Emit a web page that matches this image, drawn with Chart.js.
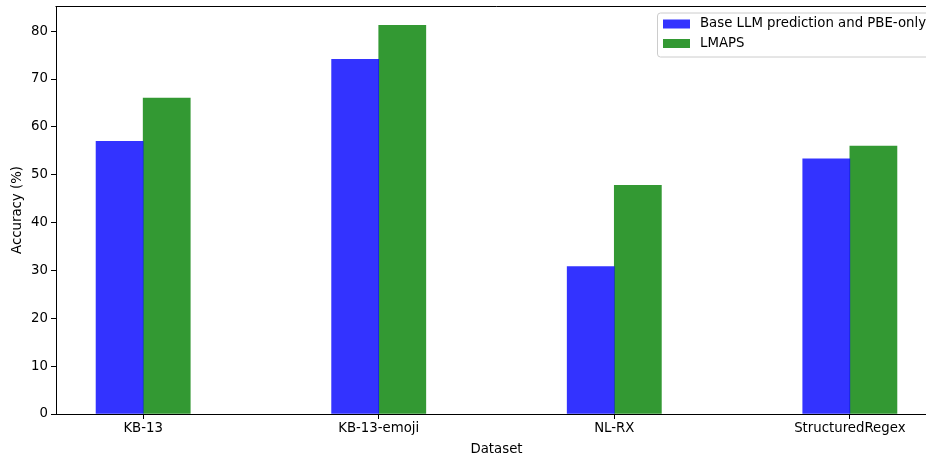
<!DOCTYPE html>
<html>
<head>
<meta charset="utf-8">
<script src="https://cdn.jsdelivr.net/npm/chart.js@4"></script>
<style>
  html, body { margin: 0; padding: 0; background: #fff; overflow: hidden; }
  #wrap { width: 940px; height: 457px; }
</style>
</head>
<body>
<div id="wrap"><canvas id="chart" width="940" height="457"></canvas></div>
<script>
// ===== DATA =====
const datasets = ["KB-13", "KB-13-emoji", "NL-RX", "StructuredRegex"];
const baseValues = [57.0, 74.1, 30.8, 53.3];
const lmapsValues = [66.0, 81.2, 47.8, 56.0];
const seriesNames = ["Base LLM prediction and PBE-only", "LMAPS"];
const yTicks = [0, 10, 20, 30, 40, 50, 60, 70, 80];

const FONT = "'DejaVu Sans', sans-serif";
const FS = 13.3;
const blue = "rgba(0, 0, 255, 0.8)";
const green = "rgba(0, 128, 0, 0.8)";

// frame (top + right spines) and legend, matplotlib-style
const framePlugin = {
  id: "frame",
  afterDraw(chart) {
    const { ctx, chartArea } = chart;
    ctx.save();
    ctx.strokeStyle = "#000";
    ctx.lineWidth = 1;
    ctx.beginPath();
    ctx.moveTo(chartArea.left - 0.5, Math.round(chartArea.top) + 0.5);
    ctx.lineTo(chartArea.right, Math.round(chartArea.top) + 0.5);
    ctx.lineTo(chartArea.right - 0.5, chartArea.bottom);
    ctx.stroke();

    // legend box
    const lx = 657, ly = 12.5, lw = 273, lh = 44;
    ctx.fillStyle = "rgba(255,255,255,0.8)";
    ctx.strokeStyle = "#cccccc";
    ctx.beginPath();
    ctx.roundRect(lx + 0.5, ly + 0.5, lw, lh, 3);
    ctx.fill();
    ctx.stroke();

    const colors = [blue, green];
    ctx.font = FS + "px " + FONT;
    ctx.textBaseline = "middle";
    ctx.textAlign = "left";
    seriesNames.forEach((name, i) => {
      const ry = 24 + i * 19.5;
      ctx.fillStyle = colors[i];
      ctx.fillRect(663, ry - 4.5, 27, 9);
      ctx.fillStyle = "#000";
      ctx.fillText(name, 700, ry);
    });
    ctx.restore();
  },
};

const ctx = document.getElementById("chart");
new Chart(ctx, {
  type: "bar",
  data: {
    datasets: [
      {
        label: seriesNames[0],
        data: datasets.map((d, i) => ({ x: i - 0.1, y: baseValues[i] })),
        backgroundColor: blue,
        barThickness: 47.1,
      },
      {
        label: seriesNames[1],
        data: datasets.map((d, i) => ({ x: i + 0.1, y: lmapsValues[i] })),
        backgroundColor: green,
        barThickness: 47.1,
      },
    ],
  },
  options: {
    responsive: false,
    animation: false,
    layout: { padding: { top: 6, right: 3, left: 0, bottom: 0 } },
    plugins: { legend: { display: false }, tooltip: { enabled: false } },
    datasets: { bar: { grouped: false } },
    scales: {
      x: {
        type: "linear",
        min: -0.37,
        max: 3.37,
        offset: false,
        afterFit: (s) => {
          s.height = 43;
          s.paddingLeft = 0;
          s.paddingRight = 0;
        },
        afterBuildTicks: (s) => { s.ticks = datasets.map((d, i) => ({ value: i })); },
        ticks: {
          callback: (v) => datasets[v],
          color: "#000",
          font: { family: FONT, size: FS },
          padding: 2,
          maxRotation: 0,
        },
        grid: { display: true, offset: false, drawOnChartArea: false, tickLength: 5, color: "#000" },
        border: { display: true, color: "#000", width: 1 },
        title: {
          display: true,
          text: "Dataset",
          color: "#000",
          font: { family: FONT, size: FS },
          padding: { top: 0, bottom: -1 },
        },
      },
      y: {
        min: 0,
        max: 85.26,
        afterFit: (s) => {
          s.width = 56;
          s.paddingTop = 0;
          s.paddingBottom = 0;
        },
        afterBuildTicks: (s) => { s.ticks = yTicks.map((v) => ({ value: v })); },
        ticks: {
          color: "#000",
          font: { family: FONT, size: FS },
          padding: 3,
        },
        grid: { display: true, drawOnChartArea: false, tickLength: 5, color: "#000" },
        border: { display: true, color: "#000", width: 1 },
        title: {
          display: true,
          text: "Accuracy (%)",
          color: "#000",
          font: { family: FONT, size: FS },
          padding: { top: 10, bottom: 0 },
        },
      },
    },
  },
  plugins: [framePlugin],
});
</script>
</body>
</html>
